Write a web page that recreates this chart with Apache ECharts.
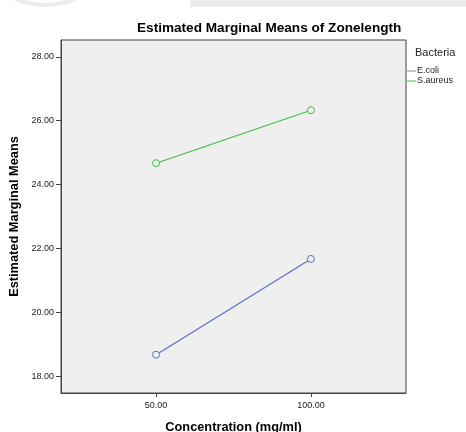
<!DOCTYPE html>
<html>
<head>
<meta charset="utf-8">
<script src="https://cdn.jsdelivr.net/npm/echarts@6/dist/echarts.min.js"></script>
<style>
  html, body { margin: 0; padding: 0; background: #fff; }
  #chart { width: 466px; height: 432px; }
</style>
</head>
<body>
<div id="chart"></div>
<script>
// data
const concentrations = [50, 100];
const ecoliMeans = [18.67, 21.67];
const saureusMeans = [24.67, 26.33];
const seriesNames = ['E.coli', 'S.aureus'];
const xTicks = [50, 100];
const yTicks = [18, 20, 22, 24, 26, 28];

const font = 'Liberation Sans, Arial, sans-serif';
const colors = ['#5b6cc6', '#3cc13c'];
const legendColors = ['#7083cc', '#3cc13c'];

function pairs(xs, ys) {
    return xs.map((x, i) => [x, ys[i]]);
}

function lineSeries(idx, values) {
    return {
        name: seriesNames[idx], type: 'line',
        data: pairs(concentrations, values),
        symbol: 'circle', symbolSize: 7,
        lineStyle: { width: 1.2, color: colors[idx] },
        itemStyle: { color: '#efefef', borderColor: colors[idx], borderWidth: 1 }
    };
}

const chart = echarts.init(document.getElementById('chart'));
chart.setOption({
    animation: false,
    backgroundColor: '#fff',
    title: {
        text: 'Estimated Marginal Means of Zonelength',
        left: 137, top: 21, padding: 0,
        textStyle: { fontFamily: font, fontSize: 13.6, fontWeight: 'bold', color: '#000' }
    },
    graphic: [
        // faint scan artefacts along the top edge
        { type: 'rect', shape: { x: 190, y: 0, width: 276, height: 7 }, style: { fill: '#ececec' } },
        { type: 'ring', shape: { cx: 45, cy: -70, r: 77, r0: 73 }, style: { fill: '#ececec' } },
        { type: 'text', left: 415, top: 47,
          style: { text: 'Bacteria', fontFamily: font, fontSize: 11, fill: '#222' } }
    ],
    legend: {
        orient: 'vertical',
        left: 407, top: 66,
        padding: 0, itemGap: 0,
        itemWidth: 9, itemHeight: 1,
        icon: 'rect',
        itemStyle: { borderWidth: 0 },
        textStyle: { fontFamily: font, fontSize: 9, color: '#222', lineHeight: 10, padding: [0, 0, 0, -4] },
        data: seriesNames.map((n, i) => ({ name: n, itemStyle: { color: legendColors[i], borderWidth: 0 } }))
    },
    grid: {
        left: 61, right: 60, top: 40, bottom: 39,
        outerBoundsMode: 'none',
        show: true, backgroundColor: '#efefef', borderColor: '#444', borderWidth: 1
    },
    xAxis: {
        type: 'value',
        min: 19.3, max: 130.7,
        name: 'Concentration (mg/ml)',
        nameLocation: 'middle', nameGap: 28,
        nameTextStyle: { fontFamily: font, fontSize: 12.8, fontWeight: 'bold', color: '#000' },
        axisLine: { show: true, lineStyle: { color: '#444' } },
        axisTick: { show: true, length: 4, customValues: xTicks, lineStyle: { color: '#444' } },
        axisLabel: { customValues: xTicks, fontFamily: font, fontSize: 9, color: '#222', margin: 8,
                     formatter: v => v.toFixed(2) },
        splitLine: { show: false }
    },
    yAxis: {
        type: 'value',
        min: 17.47, max: 28.53,
        name: 'Estimated Marginal Means',
        nameLocation: 'middle', nameGap: 39,
        nameTextStyle: { fontFamily: font, fontSize: 12.8, fontWeight: 'bold', color: '#000' },
        axisLine: { show: true, lineStyle: { color: '#444' } },
        axisTick: { show: true, length: 5, customValues: yTicks, lineStyle: { color: '#444' } },
        axisLabel: { customValues: yTicks, fontFamily: font, fontSize: 9, color: '#222', margin: 7,
                     formatter: v => v.toFixed(2) },
        splitLine: { show: false }
    },
    series: [
        lineSeries(0, ecoliMeans),
        lineSeries(1, saureusMeans)
    ]
});
</script>
</body>
</html>
